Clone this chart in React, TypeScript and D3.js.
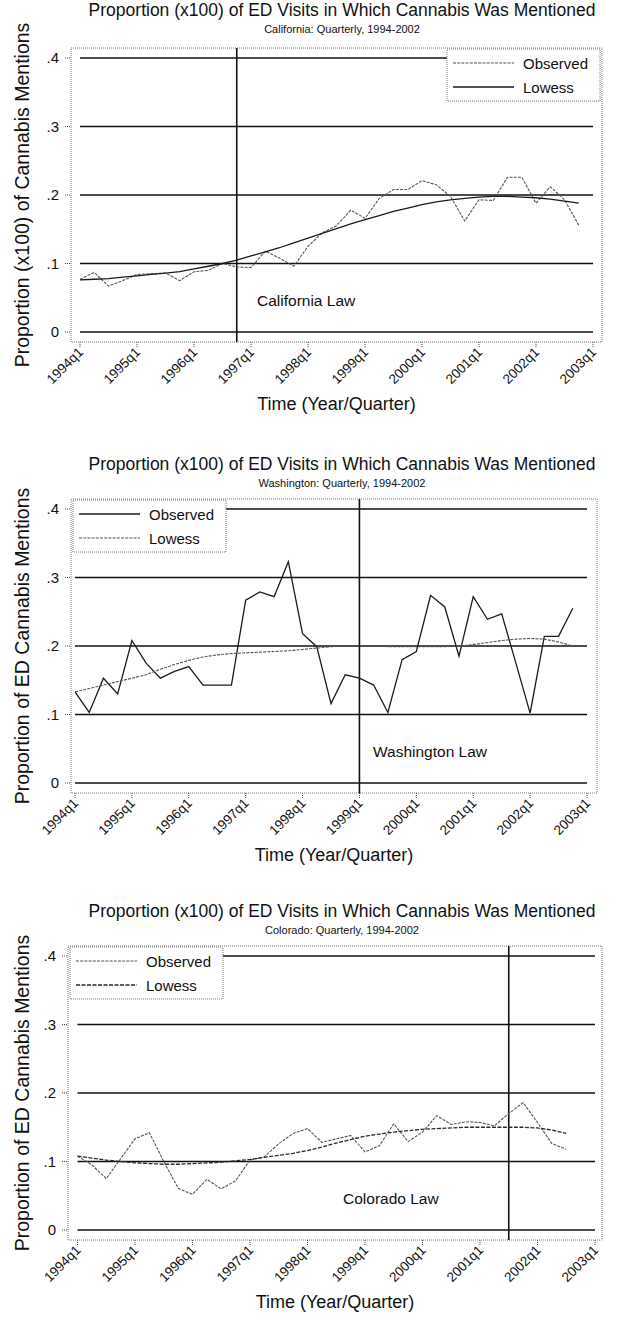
import React from "react";
import * as d3 from "d3";

const xTickLabels = ["1994q1", "1995q1", "1996q1", "1997q1", "1998q1", "1999q1", "2000q1", "2001q1", "2002q1", "2003q1"];
const xTickQuarters = [0, 4, 8, 12, 16, 20, 24, 28, 32, 36];
const yTickValues = [0, 0.1, 0.2, 0.3, 0.4];
const yTickLabels = ["0", ".1", ".2", ".3", ".4"];

const caObserved = [0.077, 0.087, 0.067, 0.075, 0.084, 0.085, 0.086, 0.075, 0.088, 0.09, 0.1, 0.095, 0.094, 0.118, 0.108, 0.096, 0.125, 0.145, 0.155, 0.178, 0.166, 0.195, 0.208, 0.208, 0.221, 0.215, 0.198, 0.162, 0.193, 0.192, 0.226, 0.226, 0.188, 0.212, 0.193, 0.156];
const caLowess = [0.076, 0.077, 0.078, 0.08, 0.082, 0.084, 0.086, 0.088, 0.092, 0.096, 0.1, 0.105, 0.111, 0.117, 0.123, 0.13, 0.137, 0.144, 0.151, 0.158, 0.164, 0.17, 0.176, 0.181, 0.186, 0.19, 0.193, 0.195, 0.197, 0.198, 0.198, 0.197, 0.196, 0.194, 0.191, 0.188];

const waObserved = [0.133, 0.103, 0.153, 0.13, 0.208, 0.175, 0.153, 0.163, 0.17, 0.143, 0.143, 0.143, 0.267, 0.279, 0.272, 0.323, 0.218, 0.199, 0.116, 0.158, 0.153, 0.143, 0.103, 0.18, 0.192, 0.274, 0.257, 0.185, 0.272, 0.239, 0.247, 0.175, 0.102, 0.214, 0.214, 0.255];
const waLowess = [0.133, 0.138, 0.143, 0.148, 0.153, 0.158, 0.166, 0.173, 0.179, 0.184, 0.187, 0.189, 0.19, 0.191, 0.192, 0.193, 0.195, 0.197, 0.199, 0.2, 0.2, 0.2, 0.199, 0.199, 0.199, 0.199, 0.199, 0.2, 0.202, 0.205, 0.208, 0.21, 0.211, 0.21, 0.206, 0.2];

const coObserved = [0.108, 0.095, 0.075, 0.104, 0.133, 0.142, 0.1, 0.061, 0.052, 0.074, 0.06, 0.072, 0.102, 0.107, 0.126, 0.141, 0.148, 0.128, 0.133, 0.138, 0.114, 0.123, 0.155, 0.129, 0.143, 0.167, 0.154, 0.158, 0.157, 0.152, 0.17, 0.186, 0.157, 0.126, 0.118];
const coLowess = [0.108, 0.105, 0.102, 0.1, 0.098, 0.097, 0.096, 0.096, 0.097, 0.098, 0.099, 0.101, 0.103, 0.106, 0.109, 0.112, 0.116, 0.121, 0.127, 0.132, 0.137, 0.14, 0.143, 0.145, 0.147, 0.148, 0.149, 0.15, 0.15, 0.15, 0.15, 0.15, 0.149, 0.146, 0.141];

const titleText = "Proportion (x100) of ED Visits in Which Cannabis Was Mentioned";
const xTitleText = "Time (Year/Quarter)";
const legendLabels = ["Observed", "Lowess"];

const FONT = "'Liberation Sans', Arial, Helvetica, sans-serif";

type LineStyle = { stroke: string; width: number; dash?: string };
const solidBlack: LineStyle = { stroke: "#1a1a1a", width: 1.3 };
const dottedGrey: LineStyle = { stroke: "#555", width: 1.1, dash: "3,1.2" };
const dashedDark: LineStyle = { stroke: "#2a2a2a", width: 1.3, dash: "4,1.5" };

type PanelCfg = {
  top: number;
  titleShift: number;
  subtitle: string;
  yTitle: string;
  observed: number[];
  lowess: number[];
  lawQ: number;
  lawLabel: string;
  lawLabelX: number;
  obsStyle: LineStyle;
  lowStyle: LineStyle;
  legendSide: "left" | "right";
  x0: number;
  x1: number;
  boxL: number;
  boxR: number;
};

const panels: PanelCfg[] = [
  { top: 0, titleShift: -3, subtitle: "California: Quarterly, 1994-2002", yTitle: "Proportion (x100) of Cannabis Mentions", observed: caObserved, lowess: caLowess, lawQ: 11, lawLabel: "California Law", lawLabelX: 257, obsStyle: dottedGrey, lowStyle: solidBlack, legendSide: "right", x0: 80, x1: 593, boxL: 71, boxR: 602 },
  { top: 451, titleShift: 0, subtitle: "Washington: Quarterly, 1994-2002", yTitle: "Proportion of ED Cannabis Mentions", observed: waObserved, lowess: waLowess, lawQ: 20, lawLabel: "Washington Law", lawLabelX: 373, obsStyle: solidBlack, lowStyle: dottedGrey, legendSide: "left", x0: 75, x1: 587, boxL: 71, boxR: 597 },
  { top: 898, titleShift: 0, subtitle: "Colorado: Quarterly, 1994-2002", yTitle: "Proportion of ED Cannabis Mentions", observed: coObserved, lowess: coLowess, lawQ: 30, lawLabel: "Colorado Law", lawLabelX: 343, obsStyle: dottedGrey, lowStyle: dashedDark, legendSide: "left", x0: 77.5, x1: 595, boxL: 68, boxR: 602 },
];

function Panel({ p }: { p: PanelCfg }) {
  const T = p.top;
  const x = d3.scaleLinear().domain([0, 36]).range([p.x0, p.x1]);
  const y = d3.scaleLinear().domain([0, 0.4]).range([T + 332, T + 58]);
  const boxTop = T + 48;
  const boxBottom = T + 342;
  const line = d3.line<number>().x((_, i) => x(i)).y((d) => y(d));
  const legW = 153;
  const legX = p.legendSide === "right" ? p.boxR - 2 - legW : p.boxL + 2;
  const legY = boxTop + 1;
  const legH = 52;
  const midX = (p.boxL + p.boxR) / 2;
  const styleProps = (s: LineStyle) => ({ stroke: s.stroke, strokeWidth: s.width, strokeDasharray: s.dash, fill: "none" });
  return (
    <g fontFamily={FONT} fill="#111">
      <text x={342} y={T + 19 + p.titleShift} textAnchor="middle" fontSize={17.5}>{titleText}</text>
      <text x={342} y={T + 36 + p.titleShift} textAnchor="middle" fontSize={11}>{p.subtitle}</text>
      <rect x={p.boxL} y={boxTop} width={p.boxR - p.boxL} height={boxBottom - boxTop} fill="none" stroke="#777" strokeWidth={1} strokeDasharray="1,1" />
      {yTickValues.map((v, i) => (
        <g key={"yt" + i}>
          <line x1={x(0)} x2={x(36)} y1={y(v)} y2={y(v)} stroke="#111" strokeWidth={1.6} />
          <line x1={p.boxL - 6} x2={p.boxL} y1={y(v)} y2={y(v)} stroke="#444" strokeWidth={1} strokeDasharray="1,1" />
          <text x={p.boxL - 12} y={y(v) + 5} textAnchor="end" fontSize={15}>{yTickLabels[i]}</text>
        </g>
      ))}
      <line x1={x(p.lawQ)} x2={x(p.lawQ)} y1={boxTop} y2={boxBottom} stroke="#111" strokeWidth={1.6} />
      <path d={line(p.observed) || ""} {...styleProps(p.obsStyle)} />
      <path d={line(p.lowess) || ""} {...styleProps(p.lowStyle)} />
      <text x={p.lawLabelX} y={T + 306} fontSize={15.5}>{p.lawLabel}</text>
      {xTickQuarters.map((q, i) => (
        <g key={"xt" + i}>
          <line x1={x(q)} x2={x(q)} y1={boxBottom} y2={boxBottom + 5} stroke="#444" strokeWidth={1} strokeDasharray="1,1" />
          <text transform={`translate(${x(q) + 4},${boxBottom + 11}) rotate(-45)`} textAnchor="end" fontSize={13.5}>{xTickLabels[i]}</text>
        </g>
      ))}
      <text x={midX} y={T + 410} textAnchor="middle" fontSize={18}>{xTitleText}</text>
      <text transform={`translate(29,${(boxTop + boxBottom) / 2}) rotate(-90)`} textAnchor="middle" fontSize={19.5}>{p.yTitle}</text>
      <g>
        <rect x={legX} y={legY} width={legW} height={legH} fill="white" stroke="#777" strokeWidth={1} strokeDasharray="1,1" />
        {[p.obsStyle, p.lowStyle].map((s, i) => {
          const cy = legY + 14 + i * 24;
          return (
            <g key={"lg" + i}>
              <line x1={legX + 6} x2={legX + 67} y1={cy} y2={cy} {...styleProps(s)} />
              <text x={legX + 76} y={cy + 5.5} fontSize={15}>{legendLabels[i]}</text>
            </g>
          );
        })}
      </g>
    </g>
  );
}

export default function App() {
  return (
    <svg width={619} height={1323} style={{ position: "absolute", left: 0, top: 0, background: "white" }}>
      <rect x={0} y={0} width={619} height={1323} fill="white" />
      {panels.map((p, i) => (
        <Panel key={i} p={p} />
      ))}
    </svg>
  );
}
